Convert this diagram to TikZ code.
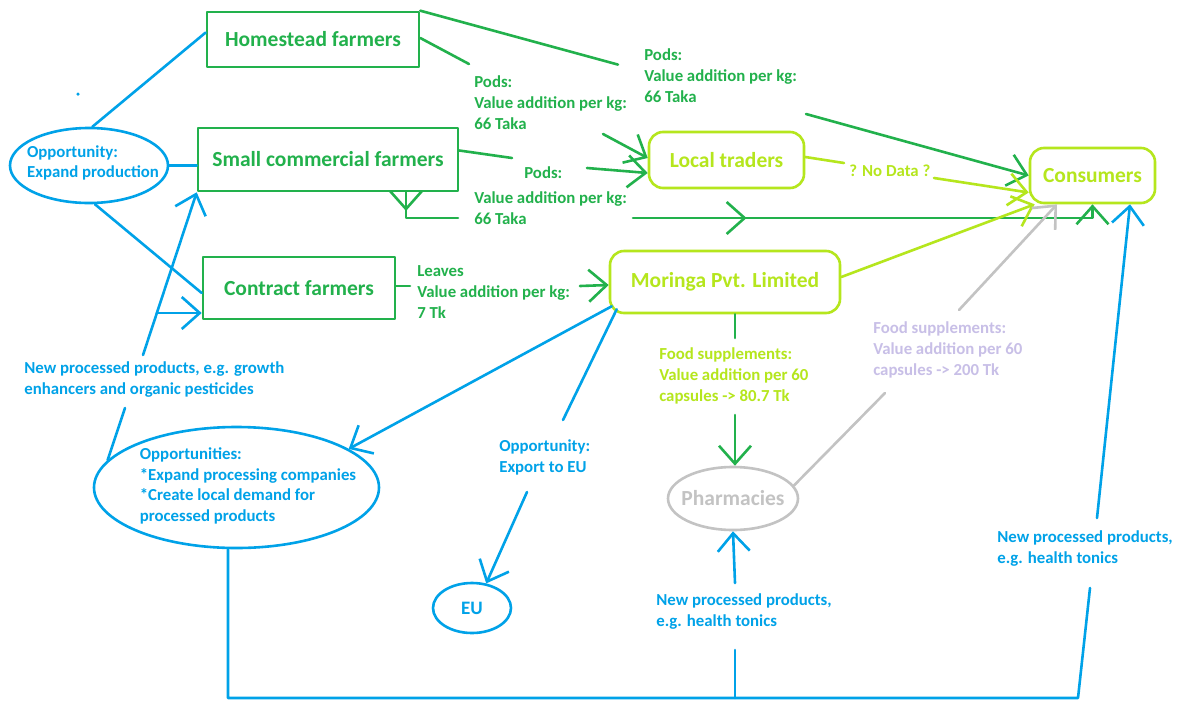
\documentclass[tikz,border=0pt]{standalone}
\usepackage{fontspec}
\setmainfont{Carlito}
\usetikzlibrary{arrows.meta,shapes.geometric,decorations.markings}
\definecolor{pgreen}{HTML}{22B14C}
\definecolor{plime}{HTML}{B5E61D}
\definecolor{pblue}{HTML}{00A2E8}
\definecolor{pgray}{HTML}{C3C3C3}
\definecolor{plav}{HTML}{C8BFE7}
\begin{document}
\begin{tikzpicture}[x=1pt,y=-1pt,line width=2.6pt,line cap=round,line join=round,
  nodefont/.style={font=\fontsize{21.5}{25}\selectfont\bfseries},
  lblfont/.style={font=\fontsize{16.8}{20.6}\selectfont\bfseries},
  gbox/.style={draw=pgreen,text=pgreen,rectangle,inner sep=0,nodefont},
  lbox/.style={draw=plime,text=plime,rectangle,rounded corners=14pt,inner sep=0,nodefont},
  ell/.style={ellipse,inner sep=0},
  lbl/.style={anchor=base west,align=left,inner sep=0,lblfont},
  arrowtip/.tip={Straight Barb[length=18pt,width=32pt]},
  arr/.style={-arrowtip},
  midarrow/.style={postaction={decorate},decoration={markings,mark=at position #1 with {\arrow{arrowtip}}}},
  gline/.style={draw=pgreen},
  lline/.style={draw=plime},
  grline/.style={draw=pgray},
  bline/.style={draw=pblue}]
\useasboundingbox (0,0) rectangle (1178,702);
\fill[white] (0,0) rectangle (1178,702);

% nodes
\node[gbox,minimum width=212pt,minimum height=55pt] (home) at (313,39.5) {Homestead farmers};
\node[gbox,minimum width=260pt,minimum height=63pt] (small) at (328,159.5) {Small commercial farmers};
\node[gbox,minimum width=192pt,minimum height=62pt] (contract) at (299,288) {Contract farmers};
\node[lbox,minimum width=155pt,minimum height=56pt] (local) at (726.5,160) {Local traders};
\node[lbox,minimum width=125pt,minimum height=55pt] (cons) at (1092.5,175.5) {Consumers};
\node[lbox,minimum width=230pt,minimum height=62pt] (mor) at (725,282) {Moringa Pvt. Limited};
\node[ell,draw=pgray,minimum width=130pt,minimum height=63pt,
  label={[text=pgray,nodefont]center:Pharmacies}] (pharm) at (733,498.5) {};
\node[ell,draw=pblue,minimum width=78pt,minimum height=50pt,
  label={[text=pblue,font=\fontsize{19}{22}\selectfont\bfseries]center:EU}] (eu) at (472,608) {};
\node[ell,draw=pblue,minimum width=158pt,minimum height=75pt,
  label={[text=pblue,align=left,lblfont,xshift=4pt,yshift=2.5pt]center:Opportunity:\\Expand production}] (opp) at (89,165.5) {};
\node[ell,draw=pblue,minimum width=285pt,minimum height=121pt,
  label={[text=pblue,align=left,lblfont,xshift=11.5pt,yshift=1.5pt]center:Opportunities:\\*Expand processing companies\\*Create local demand for\\processed products}] (opps) at (236.5,487.5) {};
\node[circle,fill=pblue,inner sep=0,minimum size=3.5pt] (dot) at (78,94) {};

% labels (anchored at the baseline of their last line)
\node[lbl,text=pgreen] (l1) at (473,129) {Pods:\\Value addition per kg:\\66 Taka};
\node[lbl,text=pgreen] (l2) at (643,102) {Pods:\\Value addition per kg:\\66 Taka};
\node[lbl,text=pgreen] (l3) at (523,178) {Pods:};
\node[lbl,text=pgreen] (l3b) at (473,224) {Value addition per kg:\\66 Taka};
\node[lbl,text=pgreen] (l4) at (416,318) {Leaves\\Value addition per kg:\\7 Tk};
\node[lbl,text=plime] (l5) at (848,176) {? No Data ?};
\node[lbl,text=plime] (l6) at (658,401) {Food supplements:\\Value addition per 60\\capsules -> 80.7 Tk};
\node[lbl,text=plav] (l7) at (872,375) {Food supplements:\\Value addition per 60\\capsules -> 200 Tk};
\node[lbl,text=pblue] (l8) at (23,394) {New processed products, e.g. growth\\enhancers and organic pesticides};
\node[lbl,text=pblue] (l9) at (498,472) {Opportunity:\\Export to EU};
\node[lbl,text=pblue] (l10) at (655,626) {New processed products,\\e.g. health tonics};
\node[lbl,text=pblue] (l11) at (996,563) {New processed products,\\e.g. health tonics};

% connector break points
\coordinate (g1) at (618,64.6); \coordinate (g2) at (806,114);
\coordinate (h1) at (469,64);   \coordinate (h2) at (603,134);
\coordinate (s1) at (512,158);  \coordinate (s2) at (587,168);
\coordinate (s4) at (458,218);  \coordinate (s5) at (633,218);
\coordinate (c1) at (410,286);  \coordinate (c2) at (580,286);
\coordinate (m1) at (735,338);  \coordinate (m2) at (735,415);
\coordinate (t1) at (844,163);  \coordinate (t2) at (934,178);
\coordinate (p1) at (885,393);  \coordinate (p2) at (959,310);
\coordinate (b1) at (143,355);  \coordinate (b2) at (157,313);
\coordinate (b3) at (125,408);  \coordinate (b4) at (563,420);
\coordinate (b5) at (527,492);
\coordinate (bl) at (228,698);  \coordinate (bm) at (735,698);  \coordinate (br) at (1078,698);
\coordinate (r1) at (1090,588); \coordinate (r2) at (1097,518);
\coordinate (mm1) at (735,650); \coordinate (mm2) at (735,583);

% green connectors
\draw[gline] (home.north east) -- (g1);
\draw[gline,arr] (g2) -- (cons.west);
\draw[gline] ([yshift=1.5pt]home.east) -- (h1);
\draw[gline,arr] (h2) -- ([yshift=2pt]local.west);
\draw[gline] ([yshift=9pt]small.east) -- (s1);
\draw[gline,arr] (s2) -- ([yshift=-13pt]local.west);
\draw[gline,midarrow=0.24] ([xshift=78pt]small.south) |- (s4);
\draw[gline,midarrow=0.24,arr] (s5) -| (cons.south);
\draw[gline] ([yshift=2pt]contract.east) -- (c1);
\draw[gline,arr] (c2) -- ([yshift=-3pt]mor.west);
\draw[gline] ([xshift=10pt]mor.south) -- (m1);
\draw[gline,arr] (m2) -- ([xshift=2pt]pharm.north);

% lime connectors
\draw[lline] ([yshift=3pt]local.east) -- (t1);
\draw[lline,arr] (t2) -- ([yshift=-17pt]cons.west);
\draw[lline,arr] ([yshift=5pt]mor.east) -- ([xshift=6pt]cons.south west);

% gray connector
\draw[grline] (pharm.12) -- (p1);
\draw[grline,arr] (p2) -- ([xshift=-35.5pt]cons.south);

% blue connectors
\draw[bline] (opp.85) -- ([yshift=7pt]home.west);
\draw[bline] (opp.east) -- (opp.east -| small.west);
\draw[bline] ([xshift=6pt]opp.south) -- ([yshift=-5pt]contract.west);
\draw[bline,arr] (b1) -- (small.south west);
\draw[bline,arr] (b2) -- (b2 -| contract.west);
\draw[bline] (b3) -- (opps.168);
\draw[bline,arr] ([shift={(3pt,8pt)}]mor.south west) -- (opps.19);
\draw[bline] ([shift={(8pt,5pt)}]mor.south west) -- (b4);
\draw[bline,arr] (b5) -- (eu.60);
\draw[bline] ([xshift=-8.5pt]opps.south) -- (bl) -- (br) -- (r1);
\draw[bline,arr] (r2) -- ([xshift=37.5pt]cons.south);
\draw[bline] (bm) -- (mm1);
\draw[bline,arr] (mm2) -- (pharm.south);
\end{tikzpicture}
\end{document}
